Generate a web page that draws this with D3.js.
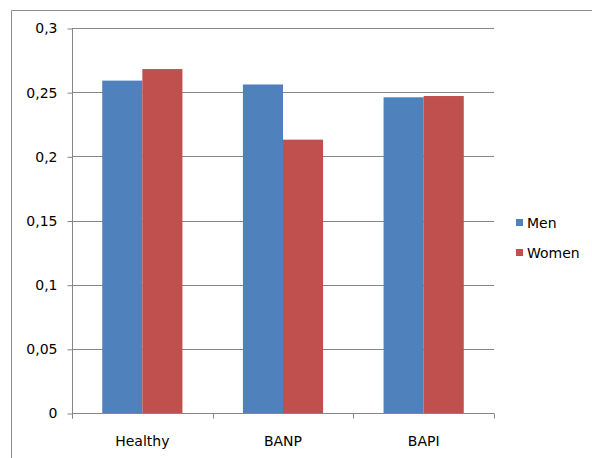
<!DOCTYPE html>
<html><head><meta charset="utf-8">
<script src="https://cdn.jsdelivr.net/npm/d3@7/dist/d3.min.js"></script>
<style>body{margin:0;background:#fff}svg{display:block}text{font-family:"DejaVu Sans",sans-serif;fill:#000}</style>
</head><body>
<svg id="c" width="592" height="458"></svg>
<script>
const categories = ["Healthy", "BANP", "BAPI"];
const seriesNames = ["Men", "Women"];
const men = [0.259, 0.256, 0.246];
const women = [0.268, 0.213, 0.247];
const yTicks = [0, 0.05, 0.1, 0.15, 0.2, 0.25, 0.3];
const yTickLabels = ["0", "0,05", "0,1", "0,15", "0,2", "0,25", "0,3"];
const colors = ["#4F81BD", "#C0504D"];
const FONT = "DejaVu Sans, sans-serif";

const svg = d3.select("#c");
// outer chart border (top & left visible)
svg.append("path").attr("d", "M11.5,458 V10.5 H592").attr("fill", "none").attr("stroke", "#8c8c8c").attr("stroke-width", 1);

const x0 = 72, x1 = 494, yTop = 28, yBot = 413;
const x = d3.scaleBand().domain(categories).range([x0, x1]).paddingInner(0.43).paddingOuter(0.215);
const xs = d3.scaleBand().domain(seriesNames).range([0, x.bandwidth()]);
const y = d3.scaleLinear().domain([0, 0.3]).range([yBot, yTop]);

// gridlines
svg.append("g").selectAll("line").data(yTicks.filter(d => d > 0)).join("line")
  .attr("x1", x0).attr("x2", x1)
  .attr("y1", d => Math.round(y(d)) + 0.5).attr("y2", d => Math.round(y(d)) + 0.5)
  .attr("stroke", "#868686");

// bars
const data = categories.map((c, i) => ({c, vals: [men[i], women[i]]}));
const g = svg.append("g");
data.forEach(d => {
  d.vals.forEach((v, j) => {
    g.append("rect")
      .attr("x", x(d.c) + xs(seriesNames[j]))
      .attr("width", xs.bandwidth())
      .attr("y", y(v))
      .attr("height", y(0) - y(v))
      .attr("fill", colors[j]);
  });
});

// y axis
const yAxis = d3.axisLeft(y).tickValues(yTicks).tickFormat((d, i) => yTickLabels[i]).tickSize(5).tickPadding(10);
const ga = svg.append("g").attr("transform", `translate(${x0 + 0.5},0.5)`).call(yAxis);
ga.select(".domain").attr("stroke", "#868686").attr("d", `M0,${yTop}V${yBot + 5}`);
ga.selectAll(".tick line").attr("stroke", "#868686");
ga.selectAll("text").attr("font-size", 14).attr("fill", "#000").attr("font-family", FONT);

// x axis
const gx = svg.append("g").attr("transform", `translate(0,${yBot + 0.5})`);
gx.append("line").attr("x1", x0).attr("x2", x1).attr("stroke", "#868686");
const bounds = [x0].concat(categories.map(c => x(c) + x.bandwidth() + x.step() * x.paddingInner() / 2));
bounds[bounds.length - 1] = x1;
gx.selectAll("line.t").data(bounds).join("line").attr("class", "t")
  .attr("x1", d => Math.round(d) + 0.5).attr("x2", d => Math.round(d) + 0.5)
  .attr("y1", 0).attr("y2", 5).attr("stroke", "#868686");
gx.selectAll("text").data(categories).join("text")
  .attr("x", d => x(d) + x.bandwidth() / 2).attr("y", 32)
  .attr("text-anchor", "middle").attr("font-size", 14).text(d => d);

// legend
const lg = svg.append("g");
seriesNames.forEach((s, i) => {
  const ly = 223 + i * 30;
  lg.append("rect").attr("x", 516).attr("y", ly - 4).attr("width", 7).attr("height", 7).attr("fill", colors[i]);
  lg.append("text").attr("x", 527).attr("y", ly + 5).attr("font-size", 14).text(s);
});
</script>
</body></html>
